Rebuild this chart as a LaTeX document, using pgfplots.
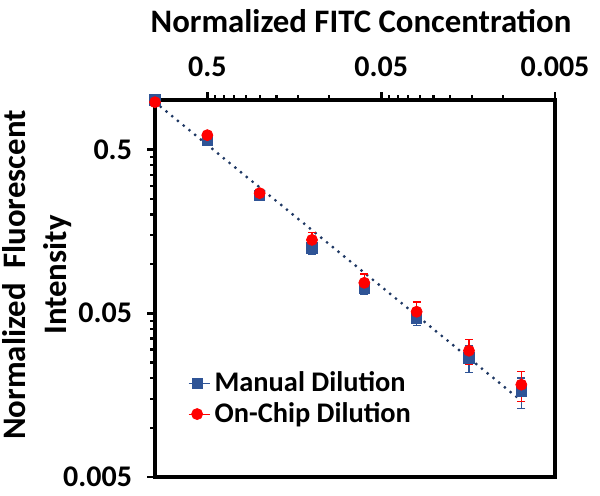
\documentclass[border=0pt]{standalone}
\usepackage{fontspec}
\setmainfont{Carlito}
\usepackage{pgfplots}
\pgfplotsset{compat=1.18}
\definecolor{mblue}{RGB}{47,84,150}
\definecolor{tblue}{RGB}{31,56,100}
\definecolor{cred}{RGB}{255,0,0}
\begin{document}
\begin{tikzpicture}
\begin{axis}[
  at={(0,0)}, anchor=south west,
  scale only axis, width=200pt, height=188.5pt,
  xmode=log, ymode=log, x dir=reverse,
  xmin=0.005, xmax=1, ymin=0.005, ymax=1,
  xtick={0.005,0.05,0.5}, xticklabels={0.005,0.05,0.5},
  ytick={0.005,0.05,0.5}, yticklabels={0.005,0.05,0.5},
  minor xtick={0.01,0.015,0.02,0.025,0.03,0.035,0.04,0.045,0.1,0.15,0.2,0.25,0.3,0.35,0.4,0.45,1},
  minor ytick={0.01,0.015,0.02,0.025,0.03,0.035,0.04,0.045,0.1,0.15,0.2,0.25,0.3,0.35,0.4,0.45,1},
  xtick pos=right, xticklabel pos=right, ytick pos=left,
  tick align=outside,
  major tick length=4pt, minor tick length=2.5pt,
  major tick style={line width=1.4pt, black},
  minor tick style={line width=1.1pt, black},
  axis line style={line width=2pt},
  clip=false,
  ticklabel style={font=\fontsize{15}{18}\selectfont\bfseries},
  xticklabel style={yshift=4pt},
  yticklabel style={xshift=-4pt},
  legend style={at={(0.067,0.208)}, anchor=west, draw=none, fill=none,
    font=\fontsize{14.2}{17}\selectfont\bfseries, row sep=0pt},
  legend cell align=left,
  legend image code/.code={\path (0cm,0cm) -- (0.38cm,0cm); \draw plot coordinates {(0.15cm,0cm)};},
]
\addplot[tblue, line width=1.6pt, dash pattern=on 0pt off 3.7pt, line cap=round, forget plot]
  coordinates {(1,0.97) (0.0078125,0.0146)};
\addplot[only marks, mark=square*, mark size=2.6pt, color=mblue,
  error bars/.cd, y dir=both, y explicit,
  error bar style={line width=0.7pt, mblue},
  error mark options={rotate=90, mark size=2pt, line width=0.7pt, mblue}]
  table[x=x, y=y, y error=e] {
x y e
1 1.0 0.01
0.5 0.57 0.015
0.25 0.262 0.012
0.125 0.125 0.01
0.0625 0.0715 0.006
0.03125 0.0469 0.005
0.015625 0.0267 0.005
0.0078125 0.0166 0.0035
};
\addlegendentry{Manual Dilution}
\addplot[only marks, mark=*, mark size=2.75pt, color=cred,
  error bars/.cd, y dir=both, y explicit,
  error bar style={line width=0.7pt, cred},
  error mark options={rotate=90, mark size=2pt, line width=0.7pt, cred}]
  table[x=x, y=y, y error=e] {
x y e
1 0.97 0.01
0.5 0.61 0.02
0.25 0.27 0.015
0.125 0.14 0.015
0.0625 0.0766 0.010
0.03125 0.051 0.0075
0.015625 0.0295 0.005
0.0078125 0.0183 0.0038
};
\addlegendentry{On-Chip Dilution}
\end{axis}
\node[anchor=base, font=\fontsize{16.4}{19}\selectfont\bfseries] at (103pt,222pt) {Normalized FITC Concentration};
\node[rotate=90, align=center, font=\fontsize{16.4}{20.5}\selectfont\bfseries] at (-59pt,101pt) {Normalized\ \ Fluorescent\\Intensity};
\pgfresetboundingbox
\path[use as bounding box] (-77.5pt,-9.5pt) rectangle (222.5pt,238.5pt);
\end{tikzpicture}
\end{document}
